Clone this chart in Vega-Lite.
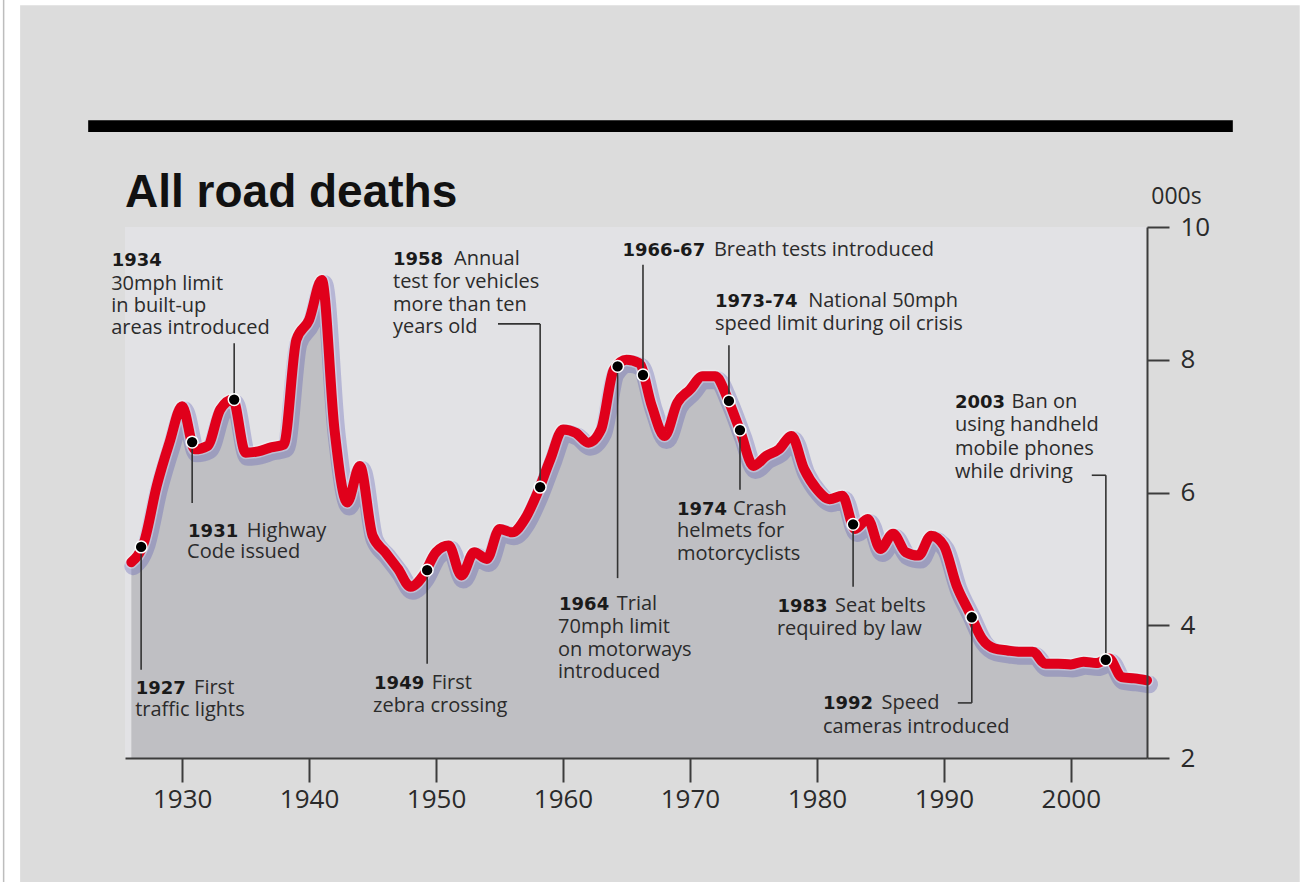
{
  "$schema": "https://vega.github.io/schema/vega-lite/v6.json",
  "width": 1022,
  "height": 531,
  "autosize": "none",
  "padding": {"left": 125, "top": 227, "right": 164, "bottom": 124},
  "background": "#ffffff",
  "config": {"view": {"stroke": null}},
  "resolve": {"axis": {"x": "independent", "y": "independent"}},
  "datasets": {
    "deaths": [
      {"year": 1926, "deaths": 4.95}, {"year": 1927, "deaths": 5.25}, {"year": 1928, "deaths": 6.1}, {"year": 1929, "deaths": 6.75},
      {"year": 1930, "deaths": 7.3}, {"year": 1931, "deaths": 6.65}, {"year": 1932, "deaths": 6.7}, {"year": 1933, "deaths": 7.25},
      {"year": 1934, "deaths": 7.4}, {"year": 1935, "deaths": 6.6}, {"year": 1936, "deaths": 6.62}, {"year": 1937, "deaths": 6.68},
      {"year": 1938, "deaths": 6.72}, {"year": 1939, "deaths": 8.3}, {"year": 1940, "deaths": 8.6}, {"year": 1941, "deaths": 9.2},
      {"year": 1942, "deaths": 6.95}, {"year": 1943, "deaths": 5.85}, {"year": 1944, "deaths": 6.4}, {"year": 1945, "deaths": 5.35},
      {"year": 1946, "deaths": 5.1}, {"year": 1947, "deaths": 4.85}, {"year": 1948, "deaths": 4.58}, {"year": 1949, "deaths": 4.75},
      {"year": 1950, "deaths": 5.1}, {"year": 1951, "deaths": 5.2}, {"year": 1952, "deaths": 4.75}, {"year": 1953, "deaths": 5.1},
      {"year": 1954, "deaths": 5.0}, {"year": 1955, "deaths": 5.45}, {"year": 1956, "deaths": 5.4}, {"year": 1957, "deaths": 5.6},
      {"year": 1958, "deaths": 6.0}, {"year": 1959, "deaths": 6.5}, {"year": 1960, "deaths": 6.95}, {"year": 1961, "deaths": 6.9},
      {"year": 1962, "deaths": 6.75}, {"year": 1963, "deaths": 6.95}, {"year": 1964, "deaths": 7.85}, {"year": 1965, "deaths": 8.0},
      {"year": 1966, "deaths": 7.95}, {"year": 1967, "deaths": 7.3}, {"year": 1968, "deaths": 6.85}, {"year": 1969, "deaths": 7.35},
      {"year": 1970, "deaths": 7.55}, {"year": 1971, "deaths": 7.75}, {"year": 1972, "deaths": 7.75}, {"year": 1973, "deaths": 7.4},
      {"year": 1974, "deaths": 6.9}, {"year": 1975, "deaths": 6.4}, {"year": 1976, "deaths": 6.55}, {"year": 1977, "deaths": 6.65},
      {"year": 1978, "deaths": 6.85}, {"year": 1979, "deaths": 6.35}, {"year": 1980, "deaths": 6.05}, {"year": 1981, "deaths": 5.9},
      {"year": 1982, "deaths": 5.95}, {"year": 1983, "deaths": 5.45}, {"year": 1984, "deaths": 5.6}, {"year": 1985, "deaths": 5.15},
      {"year": 1986, "deaths": 5.38}, {"year": 1987, "deaths": 5.1}, {"year": 1988, "deaths": 5.05}, {"year": 1989, "deaths": 5.35},
      {"year": 1990, "deaths": 5.2}, {"year": 1991, "deaths": 4.6}, {"year": 1992, "deaths": 4.2}, {"year": 1993, "deaths": 3.8},
      {"year": 1994, "deaths": 3.65}, {"year": 1995, "deaths": 3.62}, {"year": 1996, "deaths": 3.6}, {"year": 1997, "deaths": 3.6},
      {"year": 1998, "deaths": 3.42}, {"year": 1999, "deaths": 3.42}, {"year": 2000, "deaths": 3.41}, {"year": 2001, "deaths": 3.45},
      {"year": 2002, "deaths": 3.43}, {"year": 2003, "deaths": 3.5}, {"year": 2004, "deaths": 3.22}, {"year": 2005, "deaths": 3.2},
      {"year": 2006, "deaths": 3.17}
    ],
    "events": [
      {"year": 1926.77, "deaths": 5.18}, {"year": 1930.79, "deaths": 6.76}, {"year": 1934.1, "deaths": 7.4},
      {"year": 1949.3, "deaths": 4.83}, {"year": 1958.2, "deaths": 6.08}, {"year": 1964.3, "deaths": 7.9},
      {"year": 1966.3, "deaths": 7.77}, {"year": 1973.07, "deaths": 7.38}, {"year": 1973.94, "deaths": 6.94},
      {"year": 1982.85, "deaths": 5.52}, {"year": 1992.2, "deaths": 4.12}, {"year": 2002.75, "deaths": 3.48}
    ],
    "leaders": [
      {"x": 1926.77, "x2": 1926.77, "y": 5.18, "y2": 3.33},
      {"x": 1930.79, "x2": 1930.79, "y": 6.76, "y2": 5.84},
      {"x": 1934.1, "x2": 1934.1, "y": 7.4, "y2": 8.25},
      {"x": 1949.3, "x2": 1949.3, "y": 4.83, "y2": 3.42},
      {"x": 1958.2, "x2": 1958.2, "y": 6.08, "y2": 8.54},
      {"x": 1954.88, "x2": 1958.2, "y": 8.54, "y2": 8.54},
      {"x": 1964.3, "x2": 1964.3, "y": 7.9, "y2": 4.71},
      {"x": 1966.3, "x2": 1966.3, "y": 7.77, "y2": 9.43},
      {"x": 1973.07, "x2": 1973.07, "y": 7.38, "y2": 8.22},
      {"x": 1973.94, "x2": 1973.94, "y": 6.94, "y2": 6.04},
      {"x": 1982.85, "x2": 1982.85, "y": 5.52, "y2": 4.58},
      {"x": 1992.2, "x2": 1992.2, "y": 4.12, "y2": 2.83},
      {"x": 1991.1, "x2": 1992.2, "y": 2.83, "y2": 2.83},
      {"x": 2002.76, "x2": 2002.76, "y": 3.48, "y2": 6.26},
      {"x": 2001.65, "x2": 2002.76, "y": 6.26, "y2": 6.26}
    ],
    "bold": [
      {"x": 1926.34, "y": 2.96, "text": "1927"},
      {"x": 1930.47, "y": 5.33, "text": "1931"},
      {"x": 1924.45, "y": 9.41, "text": "1934"},
      {"x": 1945.12, "y": 3.04, "text": "1949"},
      {"x": 1946.61, "y": 9.42, "text": "1958"},
      {"x": 1959.69, "y": 4.23, "text": "1964"},
      {"x": 1964.69, "y": 9.56, "text": "1966-67"},
      {"x": 1971.97, "y": 8.79, "text": "1973-74"},
      {"x": 1968.98, "y": 5.66, "text": "1974"},
      {"x": 1976.89, "y": 4.2, "text": "1983"},
      {"x": 1980.47, "y": 2.74, "text": "1992"},
      {"x": 1990.87, "y": 7.27, "text": "2003"}
    ],
    "normal": [
      {"x": 1930.94, "y": 2.96, "text": "First"},
      {"x": 1926.3, "y": 2.63, "text": "traffic lights"},
      {"x": 1935.09, "y": 5.33, "text": "Highway"},
      {"x": 1930.39, "y": 5.01, "text": "Code issued"},
      {"x": 1924.41, "y": 9.05, "text": "30mph limit"},
      {"x": 1924.41, "y": 8.72, "text": "in built-up"},
      {"x": 1924.41, "y": 8.39, "text": "areas introduced"},
      {"x": 1949.66, "y": 3.04, "text": "First"},
      {"x": 1945.04, "y": 2.69, "text": "zebra crossing"},
      {"x": 1951.42, "y": 9.42, "text": "Annual"},
      {"x": 1946.61, "y": 9.08, "text": "test for vehicles"},
      {"x": 1946.61, "y": 8.73, "text": "more than ten"},
      {"x": 1946.61, "y": 8.4, "text": "years old"},
      {"x": 1964.23, "y": 4.23, "text": "Trial"},
      {"x": 1959.61, "y": 3.88, "text": "70mph limit"},
      {"x": 1959.61, "y": 3.54, "text": "on motorways"},
      {"x": 1959.61, "y": 3.2, "text": "introduced"},
      {"x": 1971.89, "y": 9.56, "text": "Breath tests introduced"},
      {"x": 1979.31, "y": 8.79, "text": "National 50mph"},
      {"x": 1971.97, "y": 8.45, "text": "speed limit during oil crisis"},
      {"x": 1973.39, "y": 5.66, "text": "Crash"},
      {"x": 1968.98, "y": 5.33, "text": "helmets for"},
      {"x": 1968.98, "y": 4.98, "text": "motorcyclists"},
      {"x": 1981.42, "y": 4.2, "text": "Seat belts"},
      {"x": 1976.85, "y": 3.85, "text": "required by law"},
      {"x": 1985.09, "y": 2.74, "text": "Speed"},
      {"x": 1980.47, "y": 2.38, "text": "cameras introduced"},
      {"x": 1995.33, "y": 7.27, "text": "Ban on"},
      {"x": 1990.87, "y": 6.92, "text": "using handheld"},
      {"x": 1990.87, "y": 6.56, "text": "mobile phones"},
      {"x": 1990.87, "y": 6.22, "text": "while driving"}
    ],
    "heading": [{"text": "All road deaths"}]
  },
  "layer": [
    {
      "data": {"values": [{}]},
      "mark": {"type": "rect", "color": "#dcdcdc"},
      "encoding": {
        "x": {"datum": 1917.24, "type": "quantitative", "axis": null},
        "x2": {"datum": 2018.03},
        "y": {"datum": 13.34, "type": "quantitative", "axis": null},
        "y2": {"datum": 0.13}
      }
    },
    {
      "data": {"values": [{}]},
      "mark": {"type": "rule", "color": "#bdbdbd", "strokeWidth": 1.5},
      "encoding": {
        "x": {"datum": 1915.94, "type": "quantitative", "axis": null},
        "y": {"datum": 13.45, "type": "quantitative", "axis": null},
        "y2": {"datum": 0.1}
      }
    },
    {
      "data": {"values": [{}]},
      "mark": {"type": "rect", "color": "#e2e2e5"},
      "encoding": {
        "x": {"datum": 1925.5, "type": "quantitative", "axis": null},
        "x2": {"datum": 2006},
        "y": {"datum": 10, "type": "quantitative", "axis": null},
        "y2": {"datum": 2}
      }
    },
    {
      "data": {"name": "deaths"},
      "mark": {"type": "area", "interpolate": "monotone", "color": "#bfbfc3"},
      "encoding": {
        "x": {
          "field": "year", "type": "quantitative",
          "scale": {"domain": [1925.5, 2006], "nice": false, "zero": false},
          "axis": {
            "zindex": 2,
            "values": [1930, 1940, 1950, 1960, 1970, 1980, 1990, 2000],
            "format": "d", "title": null, "grid": false,
            "tickSize": 24, "tickWidth": 2, "tickColor": "#3c3c3c",
            "domainColor": "#3c3c3c", "domainWidth": 2,
            "labelFont": "Open Sans", "labelFontSize": 26, "labelColor": "#2a2a2a",
            "labelPadding": 4, "labelFlush": false, "labelOverlap": false
          }
        },
        "y": {
          "field": "deaths", "type": "quantitative",
          "scale": {"domain": [2, 10], "nice": false, "zero": false},
          "axis": {
            "zindex": 2,
            "orient": "right", "values": [2, 4, 6, 8, 10], "grid": false,
            "title": "000s", "titleAngle": 0, "titleX": 29, "titleY": -24,
            "titleAlign": "center", "titleBaseline": "alphabetic",
            "titleFont": "Open Sans", "titleFontSize": 23, "titleFontWeight": "normal", "titleColor": "#2a2a2a",
            "tickSize": 22, "tickWidth": 2, "tickColor": "#3c3c3c",
            "domainColor": "#3c3c3c", "domainWidth": 2,
            "labelFont": "Open Sans", "labelFontSize": 26, "labelColor": "#2a2a2a",
            "labelPadding": 11, "labelFlush": false, "labelOverlap": false
          }
        },
        "y2": {"datum": 2}
      }
    },
    {
      "data": {"name": "deaths"},
      "mark": {"type": "line", "interpolate": "monotone", "stroke": "#5050b0", "strokeWidth": 18, "opacity": 0.3, "xOffset": 2, "yOffset": 4, "strokeCap": "round", "strokeJoin": "round"},
      "encoding": {
        "x": {"field": "year", "type": "quantitative", "axis": null},
        "y": {"field": "deaths", "type": "quantitative", "axis": null}
      }
    },
    {
      "data": {"name": "deaths"},
      "mark": {"type": "line", "interpolate": "monotone", "stroke": "#ffffff", "strokeWidth": 13, "opacity": 0.35, "strokeCap": "round", "strokeJoin": "round"},
      "encoding": {
        "x": {"field": "year", "type": "quantitative", "axis": null},
        "y": {"field": "deaths", "type": "quantitative", "axis": null}
      }
    },
    {
      "data": {"name": "deaths"},
      "mark": {"type": "line", "interpolate": "monotone", "stroke": "#e0001b", "strokeWidth": 10, "strokeCap": "round", "strokeJoin": "round"},
      "encoding": {
        "x": {"field": "year", "type": "quantitative", "axis": null},
        "y": {"field": "deaths", "type": "quantitative", "axis": null}
      }
    },
    {
      "data": {"name": "leaders"},
      "mark": {"type": "rule", "color": "#333333", "strokeWidth": 1.6},
      "encoding": {
        "x": {"field": "x", "type": "quantitative", "axis": null},
        "x2": {"field": "x2"},
        "y": {"field": "y", "type": "quantitative", "axis": null},
        "y2": {"field": "y2"}
      }
    },
    {
      "data": {"name": "events"},
      "mark": {"type": "circle", "size": 140, "color": "#000000", "opacity": 1, "stroke": "#ffffff", "strokeWidth": 1.5},
      "encoding": {
        "x": {"field": "year", "type": "quantitative", "axis": null},
        "y": {"field": "deaths", "type": "quantitative", "axis": null}
      }
    },
    {
      "data": {"name": "bold"},
      "mark": {"type": "text", "align": "left", "baseline": "alphabetic", "font": "DejaVu Sans", "fontWeight": "bold", "fontSize": 18, "color": "#1a1a1a"},
      "encoding": {
        "x": {"field": "x", "type": "quantitative", "axis": null},
        "y": {"field": "y", "type": "quantitative", "axis": null},
        "text": {"field": "text"}
      }
    },
    {
      "data": {"name": "normal"},
      "mark": {"type": "text", "align": "left", "baseline": "alphabetic", "font": "Open Sans", "fontSize": 20, "color": "#2b2b2b"},
      "encoding": {
        "x": {"field": "x", "type": "quantitative", "axis": null},
        "y": {"field": "y", "type": "quantitative", "axis": null},
        "text": {"field": "text"}
      }
    },
    {
      "data": {"name": "heading"},
      "mark": {"type": "text", "align": "left", "baseline": "alphabetic", "font": "Liberation Sans", "fontWeight": "bold", "fontSize": 46, "color": "#111111"},
      "encoding": {
        "x": {"datum": 1925.5, "type": "quantitative", "axis": null},
        "y": {"datum": 10.3, "type": "quantitative", "axis": null},
        "text": {"field": "text"}
      }
    },
    {
      "data": {"values": [{}]},
      "mark": {"type": "rect", "color": "#000000"},
      "encoding": {
        "x": {"datum": 1922.6, "type": "quantitative", "axis": null},
        "x2": {"datum": 2012.76},
        "y": {"datum": 11.61, "type": "quantitative", "axis": null},
        "y2": {"datum": 11.43}
      }
    }
  ]
}
